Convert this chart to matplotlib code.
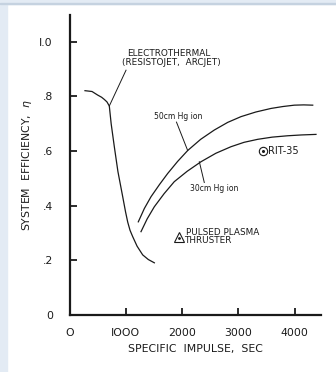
import matplotlib
matplotlib.use("Agg")
import matplotlib.pyplot as plt
from matplotlib.patches import Rectangle

# ---- data ----
et_x = [275, 400, 500, 570, 618, 665, 707, 740, 796, 860, 945, 995, 1034, 1075, 1122, 1200, 1300, 1400, 1507]
et_y = [0.821, 0.818, 0.805, 0.797, 0.789, 0.780, 0.765, 0.700, 0.616, 0.525, 0.433, 0.378, 0.340, 0.310, 0.287, 0.252, 0.220, 0.203, 0.191]

hg50_x = [1222, 1330, 1448, 1600, 1744, 1920, 2099, 2330, 2572, 2810, 3046, 3310, 3579, 3790, 3993, 4160, 4320]
hg50_y = [0.341, 0.390, 0.433, 0.478, 0.518, 0.562, 0.602, 0.643, 0.677, 0.705, 0.726, 0.743, 0.756, 0.763, 0.768, 0.769, 0.768]

hg30_x = [1270, 1380, 1506, 1680, 1861, 2090, 2336, 2600, 2869, 3100, 3343, 3600, 3876, 4120, 4378]
hg30_y = [0.305, 0.352, 0.396, 0.444, 0.488, 0.526, 0.561, 0.592, 0.616, 0.632, 0.643, 0.651, 0.656, 0.659, 0.661]

rit_x, rit_y = 3431, 0.601
ppt_x, ppt_y = 1951, 0.284

x_ticks = [0, 1000, 2000, 3000, 4000]
x_tick_labels = ["O", "IOOO", "2000", "3000", "4000"]
y_ticks = [0, 0.2, 0.4, 0.6, 0.8, 1.0]
y_tick_labels = ["0", ".2", ".4", ".6", ".8", "I.0"]

ink = "#1a1a1a"

fig = plt.figure(figsize=(3.36, 3.72), dpi=100, facecolor="white")
# light frame strips
fig.patches.append(Rectangle((0, 0), 7/336, 1, transform=fig.transFigure, color="#e3ebf4", zorder=0))
fig.patches.append(Rectangle((0, 1-4/372), 1, 4/372, transform=fig.transFigure, color="#e3ebf4", zorder=0))
fig.patches.append(Rectangle((0, 1-4/372), 1, 1/372, transform=fig.transFigure, color="#c5d2e0", zorder=0))

L, R = 69.5/336, 321/336
B, T = 1-315/372, 1-15/372
ax = fig.add_axes([L, B, R-L, T-B])
ax.set_xlim(0, 4467)
ax.set_ylim(0, 1.098)
for s in ["top", "right"]:
    ax.spines[s].set_visible(False)
for s in ["left", "bottom"]:
    ax.spines[s].set_linewidth(1.6)
    ax.spines[s].set_color(ink)

ax.set_xticks(x_ticks)
ax.set_xticklabels(x_tick_labels)
ax.set_yticks(y_ticks)
ax.set_yticklabels(y_tick_labels)
ax.tick_params(axis="both", direction="in", length=5, width=1.3, colors=ink, labelsize=7.8)
ax.tick_params(axis="x", pad=9)
ax.tick_params(axis="y", pad=12)

lw = 0.9
ax.plot(et_x, et_y, color=ink, lw=lw)
ax.plot(hg50_x, hg50_y, color=ink, lw=lw)
ax.plot(hg30_x, hg30_y, color=ink, lw=lw)

fs = 6.4
# RIT-35 point
ax.plot([rit_x], [rit_y], marker="o", ms=6, mfc="white", mec=ink, mew=0.8)
ax.plot([rit_x], [rit_y], marker="o", ms=1.2, color=ink)
ax.text(rit_x + 95, rit_y, "RIT-35", fontsize=7.0, va="center", ha="left", color=ink)

# Pulsed plasma thruster
ax.plot([ppt_x], [ppt_y], marker="^", ms=7, mfc="white", mec=ink, mew=0.8)
ax.plot([ppt_x], [ppt_y - 0.004], marker="o", ms=1.0, color=ink)
ax.text(ppt_x + 110, ppt_y + 0.018, "PULSED PLASMA", fontsize=fs, va="center", ha="left", color=ink)
ax.text(ppt_x + 80, ppt_y - 0.010, "THRUSTER", fontsize=fs, va="center", ha="left", color=ink)

# labels with leader lines
ax.text(1760, 0.957, "ELECTROTHERMAL", fontsize=fs, ha="center", va="center", color=ink)
ax.text(1810, 0.923, "(RESISTOJET,  ARCJET)", fontsize=fs, ha="center", va="center", color=ink)
ax.plot([1004, 707], [0.896, 0.765], color=ink, lw=0.7)

ax.text(1922, 0.728, "50cm Hg ion", fontsize=5.5, ha="center", va="center", color=ink)
ax.plot([1900, 2099], [0.706, 0.602], color=ink, lw=0.7)

ax.text(2572, 0.463, "30cm Hg ion", fontsize=5.5, ha="center", va="center", color=ink)
ax.plot([2306, 2394], [0.561, 0.485], color=ink, lw=0.7)

ax.set_xlabel("SPECIFIC  IMPULSE,  SEC", fontsize=7.8, color=ink, labelpad=5)
ax.set_ylabel("SYSTEM  EFFICIENCY,  $\\eta$", fontsize=7.8, color=ink, labelpad=4)

fig.savefig("out.png", dpi=100, facecolor="white")
